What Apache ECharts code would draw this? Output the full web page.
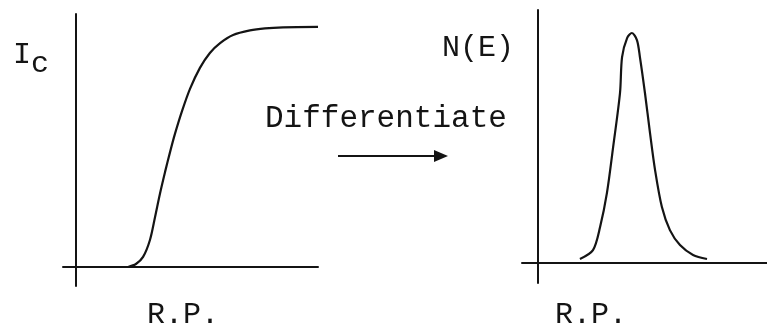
<!DOCTYPE html>
<html>
<head>
<meta charset="utf-8">
<script src="https://cdn.jsdelivr.net/npm/echarts@6/dist/echarts.min.js"></script>
<style>
  html, body { margin: 0; padding: 0; background: #ffffff; }
  #chart { width: 767px; height: 332px; }
</style>
</head>
<body>
<div id="chart"></div>
<script>
// Collector current I_c versus retarding potential (integral curve)
const rpIntegral = [20.5, 23.6, 26.4, 29.1, 31.1, 33.0, 35.0, 37.0, 38.9, 41.7, 44.8, 48.7, 52.6, 56.6, 61.7, 68.3, 74.2, 81.3, 95.0];
const icValues   = [0.0, 1.2, 4.0, 10.7, 19.8, 28.9, 37.5, 45.5, 52.6, 61.7, 70.4, 78.7, 84.6, 88.5, 91.7, 93.5, 94.3, 94.7, 94.9];

// Energy distribution N(E) obtained by differentiating I_c
const rpPeak   = [18.3, 24.0, 27.1, 30.1, 32.8, 35.8, 36.7, 38.9, 41.0, 43.2, 44.5, 46.7, 48.9, 51.1, 54.1, 57.6, 62.0, 67.7, 73.8];
const neValues = [1.6, 5.1, 14.2, 27.7, 45.8, 67.2, 81.4, 88.9, 90.9, 88.1, 81.4, 67.2, 51.4, 36.8, 22.1, 13.0, 7.1, 3.2, 1.6];

// Text labels
const leftYLabel = 'I';
const leftYSub = 'c';
const rightYLabel = 'N(E)';
const xLabel = 'R.P.';
const arrowText = 'Differentiate';

const ink = '#141414';
const font = '"Liberation Mono", "DejaVu Sans Mono", monospace';

const chart = echarts.init(document.getElementById('chart'), null, { renderer: 'canvas' });

function bareAxis(extra) {
  return Object.assign({
    type: 'value',
    axisLine: { show: true, onZero: true, lineStyle: { color: ink, width: 2 } },
    axisTick: { show: false },
    axisLabel: { show: false },
    splitLine: { show: false }
  }, extra);
}

chart.setOption({
  backgroundColor: '#ffffff',
  animation: false,
  grid: [
    { left: 63, top: 14, width: 255, height: 272 },
    { left: 522, top: 10, width: 245, height: 273 }
  ],
  xAxis: [
    bareAxis({ gridIndex: 0, min: -5, max: 95 }),
    bareAxis({ gridIndex: 1, min: -7, max: 100 })
  ],
  yAxis: [
    bareAxis({ gridIndex: 0, min: -7.5, max: 100 }),
    bareAxis({ gridIndex: 1, min: -7.9, max: 100 })
  ],
  series: [
    {
      type: 'line', xAxisIndex: 0, yAxisIndex: 0,
      data: rpIntegral.map((x, i) => [x, icValues[i]]),
      smooth: 0.3, showSymbol: false,
      lineStyle: { color: ink, width: 2.2 }
    },
    {
      type: 'line', xAxisIndex: 1, yAxisIndex: 1,
      data: rpPeak.map((x, i) => [x, neValues[i]]),
      smooth: 0.3, showSymbol: false,
      lineStyle: { color: ink, width: 2.2 }
    }
  ],
  graphic: [
    {
      type: 'text', left: 13, top: 40,
      style: {
        text: '{m|' + leftYLabel + '}{s|' + leftYSub + '}',
        rich: {
          m: { font: '30px ' + font, fill: ink },
          s: { font: '30px ' + font, fill: ink, padding: [18, 0, 0, 0] }
        }
      }
    },
    {
      type: 'text', left: 442, top: 33,
      style: { text: rightYLabel, font: '30px ' + font, fill: ink }
    },
    {
      type: 'text', left: 265, top: 103,
      style: { text: arrowText, font: '31px ' + font, fill: ink }
    },
    {
      type: 'line',
      shape: { x1: 338, y1: 156, x2: 438, y2: 156 },
      style: { stroke: ink, lineWidth: 2 }
    },
    {
      type: 'polygon',
      shape: { points: [[434, 150], [448, 156], [434, 162]] },
      style: { fill: ink }
    },
    {
      type: 'text', left: 147, top: 300,
      style: { text: xLabel, font: '30px ' + font, fill: ink }
    },
    {
      type: 'text', left: 555, top: 300,
      style: { text: xLabel, font: '30px ' + font, fill: ink }
    }
  ]
});
</script>
</body>
</html>
